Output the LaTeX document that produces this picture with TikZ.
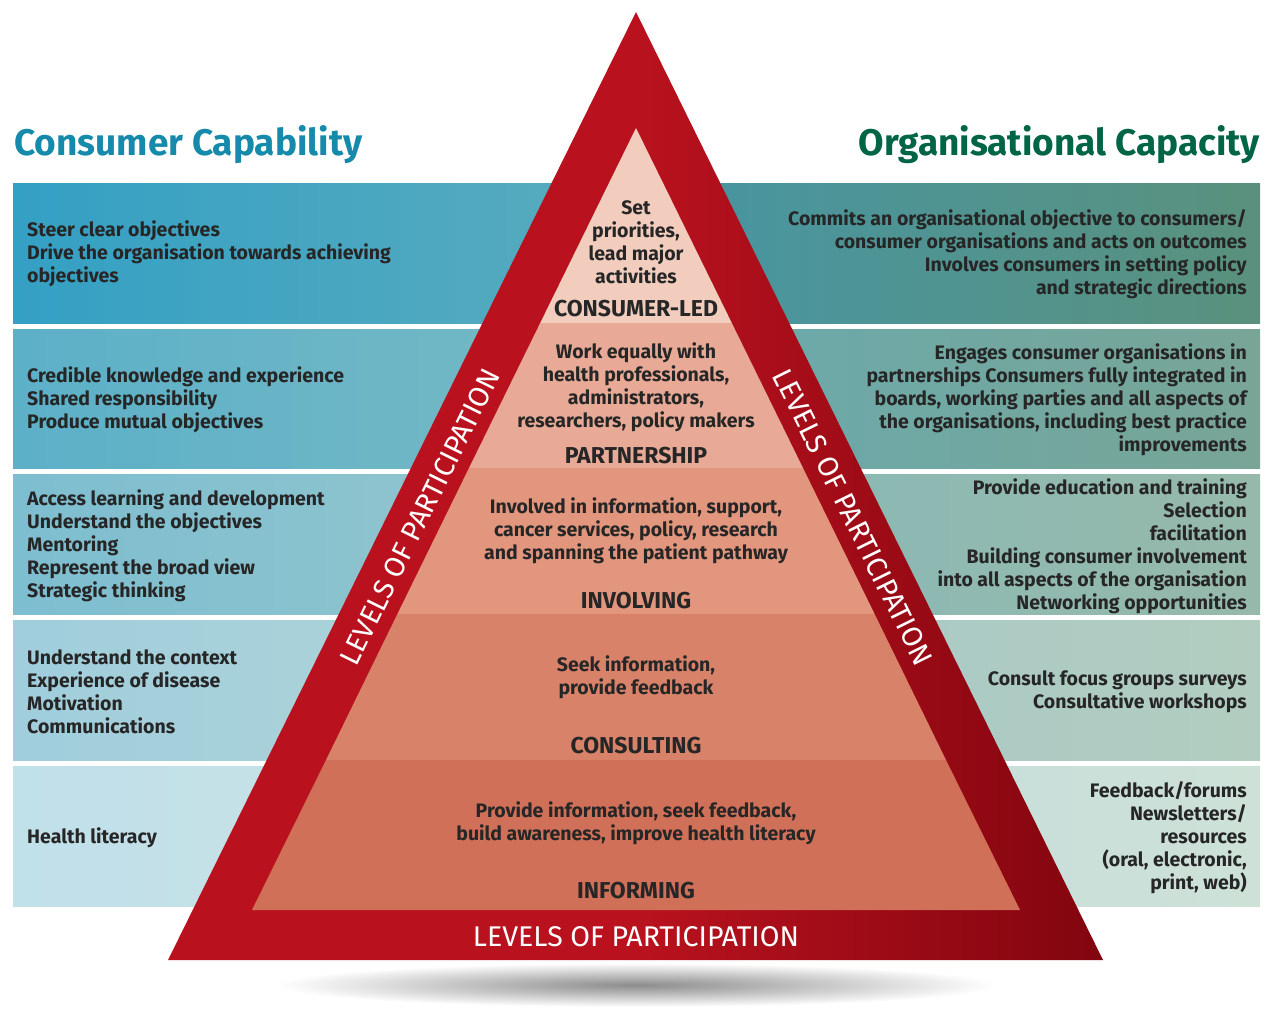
\documentclass[tikz,border=0pt]{standalone}
\usepackage{fontspec}
\setmainfont{Fira Sans}
\begin{document}
\begin{tikzpicture}[x=1pt,y=-1pt,
  body/.style={font=\fontsize{19.5}{23}\selectfont\bfseries, text=black!85, inner sep=0pt},
  lvl/.style={font=\fontsize{23}{25}\selectfont\bfseries, text=black!85, inner sep=0pt},
  side/.style={font=\fontsize{28.5}{30}\selectfont, text=white, inner sep=0pt},
  ttl/.style={font=\fontsize{37}{39}\selectfont\bfseries, inner sep=0pt}]
\useasboundingbox (0,0) rectangle (1268,1010);
\definecolor{lA}{RGB}{52,160,196}\definecolor{lA2}{RGB}{90,172,190}
\definecolor{lB}{RGB}{92,176,200}\definecolor{lB2}{RGB}{120,186,196}
\definecolor{lC}{RGB}{125,190,208}\definecolor{lC2}{RGB}{150,198,205}
\definecolor{lD}{RGB}{160,206,220}\definecolor{lD2}{RGB}{178,212,215}
\definecolor{lE}{RGB}{192,224,234}\definecolor{lE2}{RGB}{205,226,228}
\definecolor{rA}{RGB}{70,150,165}\definecolor{rA2}{RGB}{90,145,125}
\definecolor{rB}{RGB}{105,170,175}\definecolor{rB2}{RGB}{120,165,150}
\definecolor{rC}{RGB}{135,185,185}\definecolor{rC2}{RGB}{150,185,170}
\definecolor{rD}{RGB}{165,200,200}\definecolor{rD2}{RGB}{178,205,192}
\definecolor{rE}{RGB}{195,220,220}\definecolor{rE2}{RGB}{205,225,215}
\definecolor{pyr}{RGB}{185,18,30}\definecolor{pyrd}{RGB}{130,5,15}
\definecolor{cap}{RGB}{22,138,170}\definecolor{org}{RGB}{0,100,70}
% shadow
\shade[inner color=black!45, outer color=white] (636,985) ellipse (360 and 22);
% bands
\foreach \t/\b/\c/\d/\e/\f in {183/323/lA/lA2/rA/rA2, 329/468/lB/lB2/rB/rB2, 474/614/lC/lC2/rC/rC2, 620/760/lD/lD2/rD/rD2, 766/906/lE/lE2/rE/rE2}{
  \shade[left color=\c, right color=\d] (13,\t) rectangle (636,\b);
  \shade[left color=\e, right color=\f] (636,\t) rectangle (1260,\b);
}
% pyramid
\shade[left color=pyr, right color=pyrd, middle color=pyr] (636,12) -- (1103,960) -- (168,960) -- cycle;
\definecolor{i1}{RGB}{242,205,190}\definecolor{i2}{RGB}{232,170,150}
\definecolor{i3}{RGB}{225,150,125}\definecolor{i4}{RGB}{215,130,105}
\definecolor{i5}{RGB}{208,112,88}
\fill[i1] (636,128) -- (731.8,323) -- (540.2,323) -- cycle;
\fill[i2] (540.2,323) -- (731.8,323) -- (803,468) -- (469,468) -- cycle;
\fill[i3] (469,468) -- (803,468) -- (874.6,614) -- (397.4,614) -- cycle;
\fill[i4] (397.4,614) -- (874.6,614) -- (946,760) -- (326,760) -- cycle;
\fill[i5] (326,760) -- (946,760) -- (1020,910) -- (252,910) -- cycle;
% titles
\node[ttl, text=cap, anchor=west] (tl) at (14,145) {Consumer Capability};
\node[ttl, text=org, anchor=east] (tr) at (1260,145) {Organisational Capacity};
% side labels
\node[side, rotate=63.7] (sl) at (420,517) {LEVELS OF PARTICIPATION};
\node[side, rotate=-63.7] (sr) at (853,517) {LEVELS OF PARTICIPATION};
\node[side] (sb) at (636,937) {LEVELS OF PARTICIPATION};
% left texts
\node[body, anchor=west, align=left] (l1) at (27,254) {Steer clear objectives\\Drive the organisation towards achieving\\objectives};
\node[body, anchor=west, align=left] (l2) at (27,400) {Credible knowledge and experience\\Shared responsibility\\Produce mutual objectives};
\node[body, anchor=west, align=left] (l3) at (27,546) {Access learning and development\\Understand the objectives\\Mentoring\\Represent the broad view\\Strategic thinking};
\node[body, anchor=west, align=left] (l4) at (27,692) {Understand the context\\Experience of disease\\Motivation\\Communications};
\node[body, anchor=west, align=left] (l5) at (27,838) {Health literacy};
% right texts
\node[body, anchor=east, align=right] (r1) at (1247,254) {Commits an organisational objective to consumers/\\consumer organisations and acts on outcomes\\Involves consumers in setting policy\\and strategic directions};
\node[body, anchor=east, align=right] (r2) at (1247,400) {Engages consumer organisations in\\partnerships Consumers fully integrated in\\boards, working parties and all aspects of\\the organisations, including best practice\\improvements};
\node[body, anchor=east, align=right] (r3) at (1247,546) {Provide education and training\\Selection\\facilitation\\Building consumer involvement\\into all aspects of the organisation\\Networking opportunities};
\node[body, anchor=east, align=right] (r4) at (1247,692) {Consult focus groups surveys\\Consultative workshops};
\node[body, anchor=east, align=right] (r5) at (1247,838) {Feedback/forums\\Newsletters/\\resources\\(oral, electronic,\\print, web)};
% centre texts
\node[body, align=center] (c1) at (636,242) {Set\\priorities,\\lead major\\activities};
\node[lvl] (n1) at (636,309) {CONSUMER-LED};
\node[body, align=center] (c2) at (636,387) {Work equally with\\health professionals,\\administrators,\\researchers, policy makers};
\node[lvl] (n2) at (636,456) {PARTNERSHIP};
\node[body, align=center] (c3) at (636,531) {Involved in information, support,\\cancer services, policy, research\\and spanning the patient pathway};
\node[lvl] (n3) at (636,601) {INVOLVING};
\node[body, align=center] (c4) at (636,677) {Seek information,\\provide feedback};
\node[lvl] (n4) at (636,746) {CONSULTING};
\node[body, align=center] (c5) at (636,823) {Provide information, seek feedback,\\build awareness, improve health literacy};
\node[lvl] (n5) at (636,891) {INFORMING};
\end{tikzpicture}
\end{document}
